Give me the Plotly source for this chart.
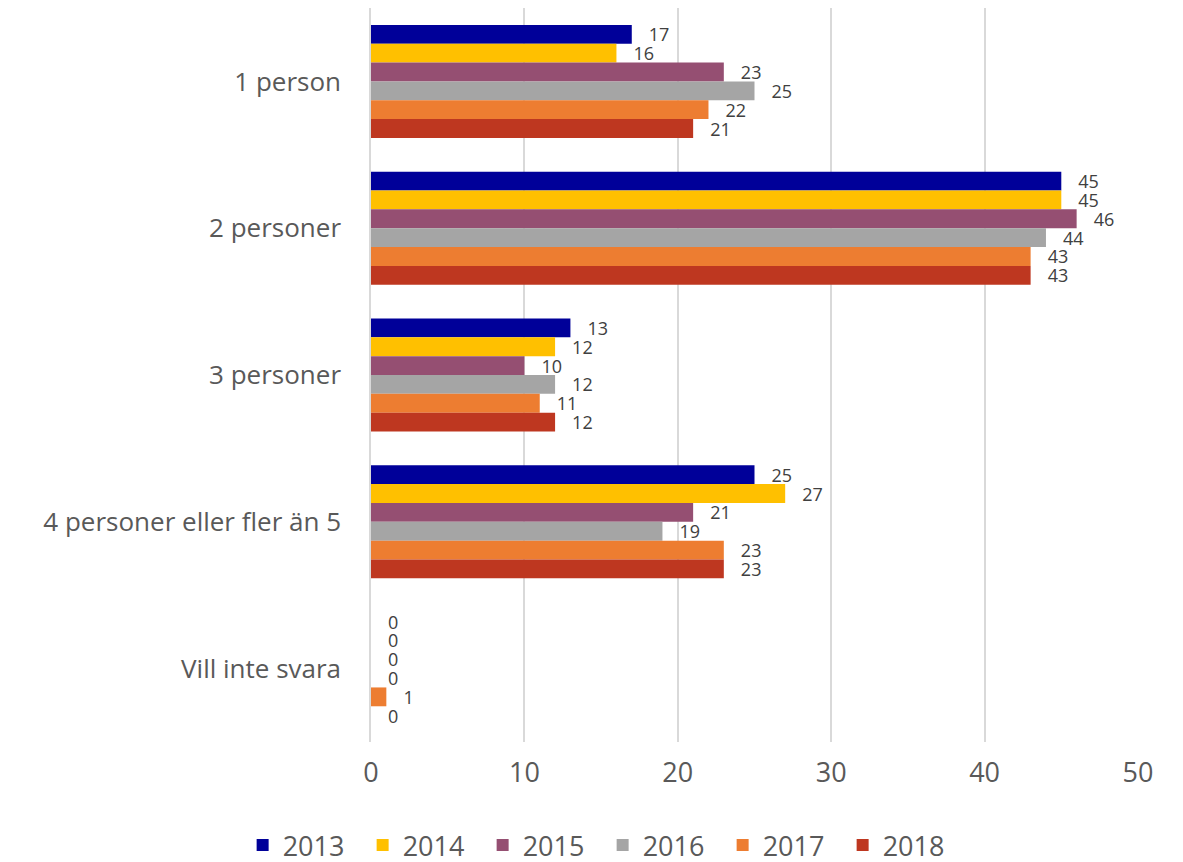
import plotly.graph_objects as go

categories = ["1 person", "2 personer", "3 personer", "4 personer eller fler än 5", "Vill inte svara"]
years = ["2013", "2014", "2015", "2016", "2017", "2018"]
v2013 = [17, 45, 13, 25, 0]
v2014 = [16, 45, 12, 27, 0]
v2015 = [23, 46, 10, 21, 0]
v2016 = [25, 44, 12, 19, 0]
v2017 = [22, 43, 11, 23, 1]
v2018 = [21, 43, 12, 23, 0]
x_ticks = [0, 10, 20, 30, 40, 50]

series = [v2013, v2014, v2015, v2016, v2017, v2018]
colors = ["#000099", "#FFC000", "#954F72", "#A5A5A5", "#ED7D31", "#BE3720"]

fig = go.Figure()
for year, vals, col in zip(years, series, colors):
    fig.add_trace(go.Bar(
        y=categories,
        x=vals,
        name=year,
        orientation="h",
        marker=dict(color=col, line=dict(width=0)),
        texttemplate="   %{x}",
        textposition="outside",
        constraintext="none",
        textfont=dict(size=18, color="#404040"),
        cliponaxis=False,
    ))

# page has an 8px body margin, so margins are shifted to compensate
fig.update_layout(
    barmode="group",
    bargap=0.23,
    bargroupgap=0,
    width=1183,
    height=862,
    margin=dict(l=363, r=53, t=0, b=126),
    paper_bgcolor="white",
    plot_bgcolor="white",
    font=dict(family="Open Sans, Liberation Sans, sans-serif", color="#595959"),
    legend=dict(
        orientation="h",
        x=0.302, xanchor="center",
        y=-0.108, yanchor="top",
        font=dict(size=27, color="#595959"),
        entrywidth=75,
        traceorder="normal",
    ),
)
fig.update_xaxes(
    range=[0, 50],
    tickvals=x_ticks,
    showgrid=True,
    gridcolor="#D9D9D9",
    gridwidth=1.5,
    zeroline=False,
    showline=False,
    automargin=False,
    ticklabelstandoff=12,
    tickfont=dict(size=27, color="#595959"),
)
fig.update_yaxes(
    autorange="reversed",
    showgrid=False,
    showline=True,
    linecolor="#D9D9D9",
    linewidth=1.5,
    ticks="",
    automargin=False,
    ticklabelstandoff=23,
    tickfont=dict(size=26, color="#595959"),
)

fig.write_html("out.html")
